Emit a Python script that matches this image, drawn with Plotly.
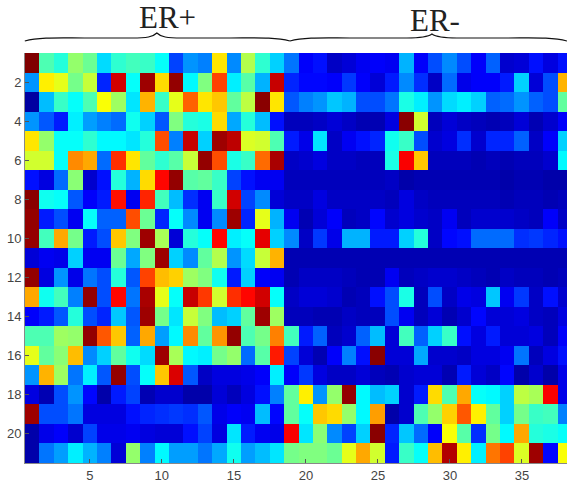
import plotly.graph_objects as go

row_01 = [100,45,41,52,48,34,42,44,43,38,19,27,25,65,26,55,42,33,24,12,14,6,8,11,12,11,30,12,20,26,20,12,22,7,8,14,9,14]
row_02 = [27,64,60,49,57,16,92,38,97,66,98,37,50,81,36,46,30,93,16,13,13,12,18,12,8,15,26,17,6,23,10,12,12,15,33,8,20,70]
row_03 = [2,31,43,38,45,62,53,35,70,43,60,78,65,68,47,56,99,65,21,25,27,32,30,20,20,24,40,36,27,34,36,33,22,23,27,22,20,47]
row_04 = [27,21,15,36,28,25,23,39,33,21,50,41,40,66,29,41,31,14,5,5,6,8,6,4,4,9,99,58,5,8,6,5,4,5,8,4,7,12]
row_05 = [65,52,38,38,42,37,37,35,41,80,25,93,33,97,94,59,58,45,15,10,35,6,11,14,16,39,43,20,7,9,17,7,16,16,22,6,12,33]
row_06 = [58,58,38,74,71,23,83,65,47,42,46,57,98,80,40,43,77,96,6,7,9,6,6,5,5,40,88,68,5,5,5,4,5,4,5,5,7,37]
row_07 = [14,9,23,51,7,14,41,30,66,87,98,46,47,43,19,14,11,11,5,5,5,5,5,5,5,6,3,4,4,4,4,4,4,3,4,4,3,3]
row_08 = [99,39,38,21,12,15,86,11,84,44,31,17,11,43,92,19,26,8,6,6,9,6,6,6,6,5,9,6,5,5,5,5,5,4,5,5,4,5]
row_09 = [98,15,20,11,38,22,22,80,48,16,38,26,11,26,97,16,60,30,11,4,8,12,5,6,13,7,9,7,6,11,5,7,7,7,6,5,12,6]
row_10 = [98,44,71,49,15,20,68,50,97,54,8,41,38,87,36,38,90,33,26,6,18,10,30,30,15,15,33,41,6,13,14,23,23,23,17,18,16,14]
row_11 = [8,11,10,33,11,11,48,29,50,97,33,26,47,55,27,34,57,70,4,4,4,4,4,4,4,4,4,4,4,4,4,4,4,4,4,4,4,4]
row_12 = [98,9,27,10,24,20,41,21,81,69,67,53,50,39,15,33,12,11,4,6,6,6,5,4,4,11,5,6,7,7,6,5,4,6,5,5,4,5]
row_13 = [71,39,44,25,98,20,87,24,96,60,38,93,82,58,83,87,92,38,6,8,8,7,4,5,14,20,40,5,20,6,10,9,32,11,18,6,14,7]
row_14 = [12,15,21,41,20,16,32,21,97,49,35,57,50,31,33,47,97,53,5,5,4,4,6,5,5,20,11,5,8,4,7,13,8,8,9,6,5,9]
row_15 = [45,45,53,52,98,79,68,22,71,28,37,74,47,73,98,45,49,75,44,15,22,5,7,22,31,8,44,22,33,43,14,9,15,8,8,9,5,12]
row_16 = [60,47,51,69,26,33,47,39,34,97,54,37,36,49,52,23,46,85,19,8,4,12,25,14,99,8,8,29,7,7,6,9,9,11,24,5,9,14]
row_17 = [27,70,53,24,36,21,98,20,38,68,91,21,6,9,9,10,12,36,12,18,9,6,6,8,5,4,7,8,8,4,15,8,6,13,3,7,3,10]
row_18 = [9,4,20,27,13,3,15,19,4,7,7,3,3,8,5,9,14,25,47,64,27,52,98,37,31,33,7,15,66,45,71,38,37,33,56,54,88,10]
row_19 = [97,20,20,24,9,9,9,14,16,17,18,17,21,10,12,11,31,13,47,38,68,66,52,37,72,3,7,45,52,67,79,64,47,33,49,43,44,25]
row_20 = [3,10,12,7,19,10,10,11,9,8,8,14,19,9,35,15,11,10,88,35,51,26,19,33,99,16,32,23,12,62,46,17,49,37,71,41,40,38]
row_21 = [3,24,28,36,30,25,8,52,25,37,28,28,24,29,39,28,31,35,49,50,50,48,60,71,58,15,43,38,69,95,64,36,76,81,59,97,13,62]

rows = [row_01,row_02,row_03,row_04,row_05,row_06,row_07,row_08,row_09,row_10,row_11,
        row_12,row_13,row_14,row_15,row_16,row_17,row_18,row_19,row_20,row_21]
x_ticks = [5,10,15,20,25,30,35]
y_ticks = [2,4,6,8,10,12,14,16,18,20]
group_labels = ["ER+", "ER-"]

W, H = 567, 483
L, T, B = 25.2, 53, 463

jet = [[0,"rgb(0,0,143)"],[.125,"rgb(0,0,255)"],[.375,"rgb(0,255,255)"],
       [.625,"rgb(255,255,0)"],[.875,"rgb(255,0,0)"],[1,"rgb(128,0,0)"]]

fig = go.Figure(go.Heatmap(
    z=rows, x=list(range(1,39)), y=list(range(1,22)),
    colorscale=jet, zmin=0, zmax=100, showscale=False))

px = lambda v: (v-L)/(W-L)
py = lambda v: (B-v)/(B-T)

def brace(x0, xm, x1, ybase, ytip):
    return (f"M{px(x0)},{py(ybase+3)} C{px(x0+15)},{py(ybase-1)} {px(x0+35)},{py(ybase)} {px(x0+60)},{py(ybase)} "
            f"L{px(xm-25)},{py(ybase)} C{px(xm-10)},{py(ybase)} {px(xm-4)},{py(ybase-1)} {px(xm)},{py(ytip)} "
            f"C{px(xm+4)},{py(ybase-1)} {px(xm+10)},{py(ybase)} {px(xm+25)},{py(ybase)} "
            f"L{px(x1-60)},{py(ybase)} C{px(x1-35)},{py(ybase)} {px(x1-15)},{py(ybase-1)} {px(x1)},{py(ybase+3)}")

tick_font = dict(family="Liberation Sans", size=13, color="#444")
fig.update_layout(
    width=W, height=H, margin=dict(l=L, r=0, t=T, b=H-B, pad=0),
    paper_bgcolor="white", plot_bgcolor="white",
    xaxis=dict(range=[0.5, 0.5+(W-L)/14.4], tickvals=x_ticks, ticks="inside", ticklen=4,
               tickcolor="#555", showgrid=False, zeroline=False, showline=True, linecolor="#888",
               tickfont=tick_font),
    yaxis=dict(range=[21.5,0.5], tickvals=y_ticks, ticks="inside", ticklen=4,
               tickcolor="#555", showgrid=False, zeroline=False, showline=True, linecolor="#888",
               tickfont=tick_font),
    shapes=[
        dict(type="path", xref="paper", yref="paper", path=brace(25,157,290,38,33),
             line=dict(color="#111", width=1.2)),
        dict(type="path", xref="paper", yref="paper", path=brace(290,432,567,38,34),
             line=dict(color="#111", width=1.2)),
    ],
    annotations=[
        dict(text=group_labels[0], x=px(168), y=py(18), xref="paper", yref="paper", showarrow=False,
             xanchor="center", yanchor="middle",
             font=dict(family="Liberation Serif", size=31, color="#222")),
        dict(text=group_labels[1], x=px(435), y=py(21), xref="paper", yref="paper", showarrow=False,
             xanchor="center", yanchor="middle",
             font=dict(family="Liberation Serif", size=31, color="#222")),
    ],
)
fig.write_html("out.html", config=dict(displayModeBar=False),
               post_script="document.body.style.margin='0';document.documentElement.style.overflow='hidden';")
